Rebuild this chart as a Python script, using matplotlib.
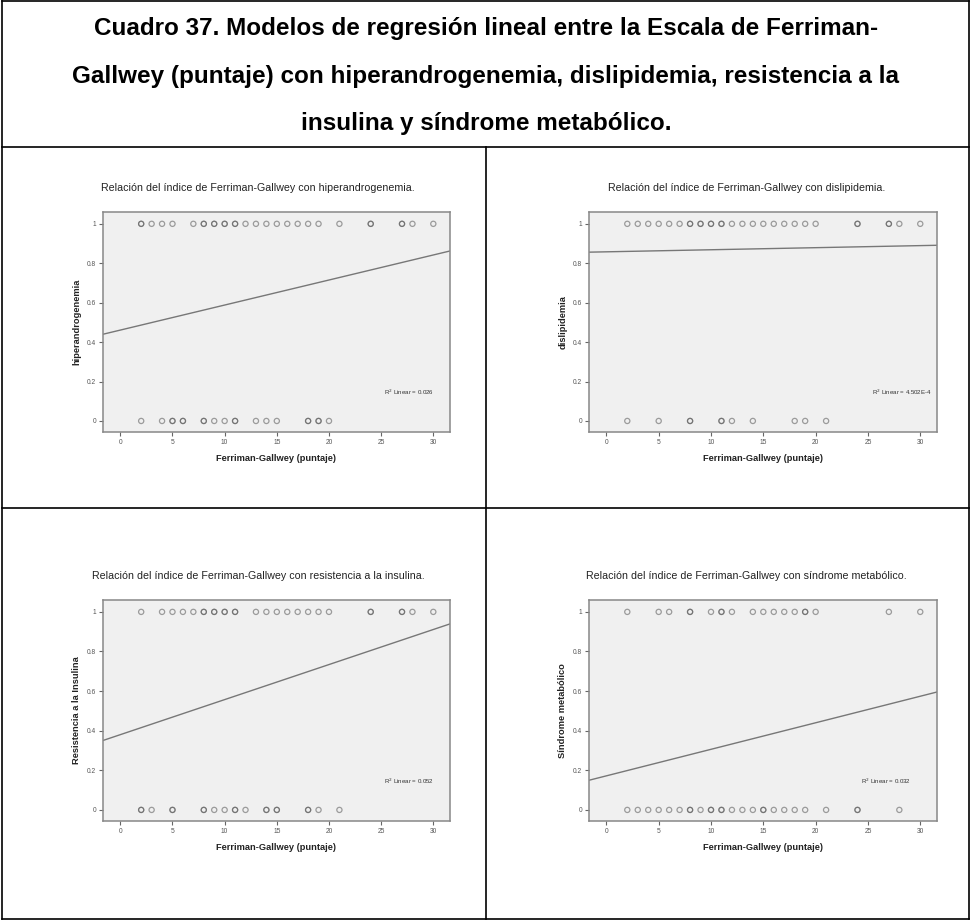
import matplotlib.pyplot as plt
import numpy as np
from matplotlib.lines import Line2D

plt.rcParams['font.family'] = ['Liberation Sans', 'DejaVu Sans']

# puntaje Ferriman-Gallwey de cada paciente, separado por valor de la variable (1 / 0)
hiper_si = [2, 2, 3, 4, 5, 7, 8, 8, 9, 9, 10, 10, 11, 11, 12, 13, 14, 15, 16, 17, 18, 19,
            21, 24, 24, 27, 27, 28, 30]
hiper_no = [2, 4, 5, 5, 6, 6, 8, 8, 9, 10, 11, 11, 13, 14, 15, 18, 18, 19, 19, 20]

disli_si = [2, 3, 4, 5, 6, 7, 8, 8, 9, 9, 10, 10, 11, 11, 12, 13, 14, 15, 16, 17, 18, 19,
            20, 24, 24, 27, 27, 28, 30]
disli_no = [2, 5, 8, 8, 11, 11, 12, 14, 18, 19, 21]

resis_si = [2, 4, 5, 6, 7, 8, 8, 9, 9, 10, 10, 11, 11, 13, 14, 15, 16, 17, 18, 19, 20,
            24, 24, 27, 27, 28, 30]
resis_no = [2, 2, 3, 5, 5, 8, 8, 9, 10, 11, 11, 12, 14, 14, 15, 15, 18, 18, 19, 21]

sindr_si = [2, 5, 6, 8, 8, 10, 11, 11, 12, 14, 15, 16, 17, 18, 19, 19, 20, 27, 30]
sindr_no = [2, 3, 4, 5, 6, 7, 8, 8, 9, 10, 10, 11, 11, 12, 13, 14, 15, 15, 16, 17, 18,
            19, 21, 24, 24, 28]

# recta de ajuste lineal (ordenada, pendiente) y R2
intercepts = [0.461, 0.858, 0.380, 0.172]
slopes = [0.0127, 0.00105, 0.0177, 0.0134]
r2_labels = ['0.026', '4.502E-4', '0.052', '0.032']

titles = ['Relación del índice de Ferriman-Gallwey con hiperandrogenemia.',
          'Relación del índice de Ferriman-Gallwey con dislipidemia.',
          'Relación del índice de Ferriman-Gallwey con resistencia a la insulina.',
          'Relación del índice de Ferriman-Gallwey con síndrome metabólico.']
ylabels = ['hiperandrogenemia', 'dislipidemia', 'Resistencia a la Insulina',
           'Síndrome metabólico']
xlabel = 'Ferriman-Gallwey (puntaje)'

datos = [(hiper_si, hiper_no), (disli_si, disli_no), (resis_si, resis_no),
         (sindr_si, sindr_no)]

W, H = 971, 921
fig = plt.figure(figsize=(W / 100, H / 100), dpi=100)


def px_axes(left, top, right, bottom):
    return fig.add_axes([left / W, 1 - bottom / H, (right - left) / W, (bottom - top) / H])


boxes = [(103, 212, 450, 432), (589, 212, 937, 432),
         (103, 600, 450, 821), (589, 600, 937, 821)]
title_x = [0.447, 0.452, 0.449, 0.452]
r2_x = [0.955, 0.985, 0.955, 0.925]

for i, (box, (si, no)) in enumerate(zip(boxes, datos)):
    ax = px_axes(*box)
    ax.set_facecolor('#f0f0f0')
    ax.scatter(si, np.ones(len(si)), s=14, facecolors='none', edgecolors='#555555',
               linewidths=0.9, alpha=0.55, zorder=3)
    ax.scatter(no, np.zeros(len(no)), s=14, facecolors='none', edgecolors='#555555',
               linewidths=0.9, alpha=0.55, zorder=3)
    xs = np.array([-1.66, 31.6])
    ax.plot(xs, intercepts[i] + slopes[i] * xs, color='#777777', lw=1.0, zorder=2)
    ax.set_xlim(-1.66, 31.6)
    ax.set_ylim(-0.056, 1.06)
    ax.set_xticks([0, 5, 10, 15, 20, 25, 30])
    ax.set_yticks([0, 0.2, 0.4, 0.6, 0.8, 1])
    ax.set_yticklabels(['0', '0.2', '0.4', '0.6', '0.8', '1'])
    ax.tick_params(labelsize=4.8, colors='#666666', length=3, width=0.8, pad=2,
                   labelcolor='#555555')
    for sp in ax.spines.values():
        sp.set_color('#888888')
        sp.set_linewidth(1.1)
    ax.set_xlabel(xlabel, fontsize=6.7, fontweight='bold', color='#222222', labelpad=6)
    ax.set_ylabel(ylabels[i], fontsize=6.7, fontweight='bold', color='#222222', labelpad=4)
    ax.text(title_x[i], 1.11, titles[i], transform=ax.transAxes, ha='center',
            va='center', fontsize=7.7, color='#222222')
    ax.text(r2_x[i], 0.18, 'R$^2$ Linear = ' + r2_labels[i], transform=ax.transAxes,
            ha='right', va='center', fontsize=4.4, color='#333333')

# marco de la tabla
def hline(y, x0=2, x1=969):
    fig.add_artist(Line2D([x0 / W, x1 / W], [1 - y / H, 1 - y / H], color='black', lw=1.2))


def vline(x, y0, y1):
    fig.add_artist(Line2D([x / W, x / W], [1 - y0 / H, 1 - y1 / H], color='black', lw=1.2))


hline(1.5)
hline(147)
hline(508)
hline(919)
vline(2, 1.5, 919)
vline(969, 1.5, 919)
vline(486, 147, 919)

encabezado = ['Cuadro 37. Modelos de regresión lineal entre la Escala de Ferriman-',
              'Gallwey (puntaje) con hiperandrogenemia, dislipidemia, resistencia a la',
              'insulina y síndrome metabólico.']
for k, linea in enumerate(encabezado):
    fig.text(486 / W, 1 - (29 + 47 * k) / H, linea, ha='center', va='center',
             fontsize=17.5, fontweight='bold', color='black')

fig.savefig('out.png', dpi=100)
